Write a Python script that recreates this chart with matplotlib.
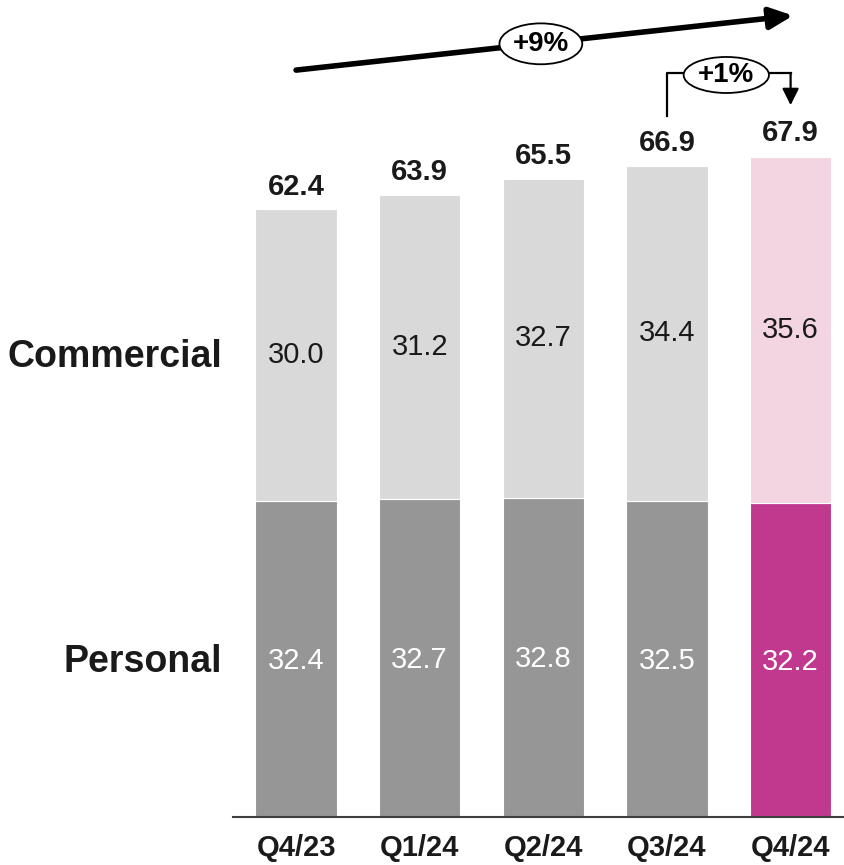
import matplotlib
matplotlib.use("Agg")
import matplotlib.pyplot as plt
from matplotlib.patches import Ellipse

plt.rcParams['font.family'] = ['Liberation Sans', 'DejaVu Sans']

quarters = ['Q4/23', 'Q1/24', 'Q2/24', 'Q3/24', 'Q4/24']
personal = [32.4, 32.7, 32.8, 32.5, 32.2]
commercial = [30.0, 31.2, 32.7, 34.4, 35.6]
totals = [62.4, 63.9, 65.5, 66.9, 67.9]
growth_total = '+9%'
growth_qoq = '+1%'

grey_dark = '#969696'
grey_light = '#d9d9d9'
mag_dark = '#c0398f'
mag_light = '#f2d5e0'

fig = plt.figure(figsize=(8.45, 8.65), dpi=100)
ax = fig.add_axes([233 / 845, 48 / 865, (845 - 233) / 845, 817 / 865])

x = list(range(len(quarters)))
pers_colors = [grey_dark] * 4 + [mag_dark]
comm_colors = [grey_light] * 4 + [mag_light]
w = 0.66
ax.bar(x, personal, width=w, color=pers_colors, edgecolor='white', linewidth=0.8, zorder=2)
ax.bar(x, commercial, width=w, bottom=personal, color=comm_colors, edgecolor='white', linewidth=0.8, zorder=2)

for i in x:
    ax.text(i, personal[i] / 2 - 0.2, f'{personal[i]:.1f}', ha='center', va='center',
            fontsize=21, color='white')
    ax.text(i, personal[i] + commercial[i] / 2, f'{commercial[i]:.1f}', ha='center', va='center',
            fontsize=21, color='#1a1a1a')
    ax.text(i, totals[i] + 0.9, f'{totals[i]:.1f}', ha='center', va='bottom',
            fontsize=21, fontweight='bold', color='#1a1a1a')

ax.set_xlim(-0.51, 4.44)
ax.set_ylim(0, 83.9)
ax.set_xticks(x)
ax.set_xticklabels(quarters, fontsize=21, fontweight='bold', color='#1a1a1a')
ax.tick_params(axis='x', length=0, pad=12)
ax.set_yticks([])
for s in ['top', 'left', 'right']:
    ax.spines[s].set_visible(False)
ax.spines['bottom'].set_color('#404040')
ax.spines['bottom'].set_linewidth(1.5)

# segment labels on the left
fig.text(222 / 845, 1 - 357 / 865, 'Commercial', ha='right', va='center',
         fontsize=27, fontweight='bold', color='#1a1a1a')
fig.text(222 / 845, 1 - 662 / 865, 'Personal', ha='right', va='center',
         fontsize=27, fontweight='bold', color='#1a1a1a')

# overall growth arrow
ax.annotate('', xy=(4.02, 82.3), xytext=(0.0, 76.7),
            arrowprops=dict(arrowstyle='-|>,head_length=1.4,head_width=0.65',
                            lw=4, color='black', shrinkA=0, shrinkB=0),
            annotation_clip=False, zorder=3)
ax.add_patch(Ellipse((1.98, 79.4), 0.67, 4.2, facecolor='white', edgecolor='black',
                     lw=1.3, zorder=4, clip_on=False))
ax.text(1.98, 79.4, growth_total, ha='center', va='center', fontsize=20,
        fontweight='bold', zorder=5)

# quarter-on-quarter bracket
ax.plot([3, 3, 4], [72.0, 76.4, 76.4], color='black', lw=1.6, zorder=3, clip_on=False)
ax.annotate('', xy=(4, 73.1), xytext=(4, 76.4),
            arrowprops=dict(arrowstyle='-|>,head_length=1.0,head_width=0.5',
                            lw=1.6, color='black', shrinkA=0, shrinkB=0),
            annotation_clip=False, zorder=3)
ax.add_patch(Ellipse((3.48, 76.2), 0.69, 3.7, facecolor='white', edgecolor='black',
                     lw=1.3, zorder=4, clip_on=False))
ax.text(3.48, 76.2, growth_qoq, ha='center', va='center', fontsize=20,
        fontweight='bold', zorder=5)

fig.savefig('out.png', dpi=100)
